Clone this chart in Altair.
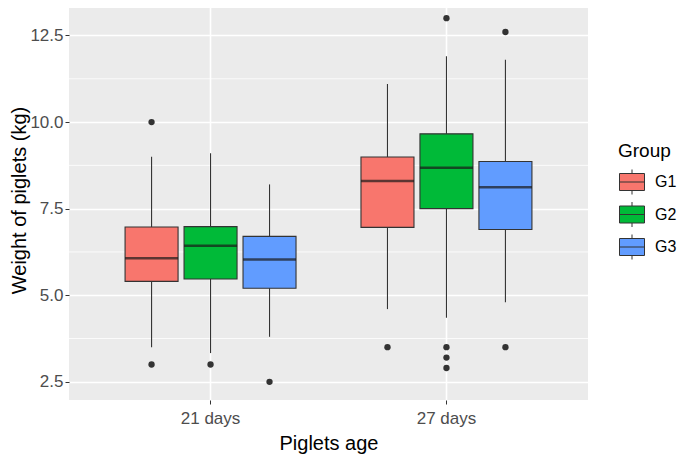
import altair as alt
import pandas as pd

# ---- data ----
ages = ["21 days", "21 days", "21 days", "27 days", "27 days", "27 days"]
groups = ["G1", "G2", "G3", "G1", "G2", "G3"]
lower_whisker = [3.5, 3.33, 3.8, 4.6, 4.35, 4.8]
q1 = [5.4, 5.47, 5.2, 6.96, 7.5, 6.9]
median = [6.07, 6.43, 6.03, 8.3, 8.68, 8.12]
q3 = [6.97, 6.98, 6.7, 8.99, 9.66, 8.86]
upper_whisker = [9.0, 9.1, 8.2, 11.1, 11.9, 11.8]

out_age = ["21 days", "21 days", "21 days", "21 days", "27 days", "27 days",
           "27 days", "27 days", "27 days", "27 days", "27 days"]
out_group = ["G1", "G1", "G2", "G3", "G1", "G2", "G2", "G2", "G2", "G3", "G3"]
out_value = [10.0, 3.0, 3.0, 2.5, 3.5, 13.0, 3.5, 3.2, 2.9, 12.6, 3.5]

age_levels = ["21 days", "27 days"]
group_levels = ["G1", "G2", "G3"]
group_colors = ["#F8766D", "#00BA38", "#619CFF"]
y_breaks = [2.5, 5.0, 7.5, 10.0, 12.5]
y_minor = [3.75, 6.25, 8.75, 11.25]

box = pd.DataFrame({"age": ages, "group": groups, "lo": lower_whisker,
                    "q1": q1, "med": median, "q3": q3, "hi": upper_whisker})
outl = pd.DataFrame({"age": out_age, "group": out_group, "value": out_value})
minor = pd.DataFrame({"v": y_minor})

FONT = "Liberation Sans"

xs = alt.Scale(domain=age_levels, paddingInner=0, paddingOuter=0.1)
xo = alt.Scale(domain=group_levels, paddingInner=0, paddingOuter=0.5)
ys = alt.Scale(domain=[1.975, 13.525], nice=False, zero=False)

X = alt.X("age:N", scale=xs, title="Piglets age",
          axis=alt.Axis(labelAngle=0, bandPosition=0.5, grid=True,
                        gridColor="white", gridWidth=1.6, domain=False,
                        tickColor="#333333", tickSize=4, labelFontSize=17,
                        labelColor="#4D4D4D", labelPadding=6,
                        titleFontSize=20, titleFontWeight="normal",
                        titleColor="black", titlePadding=7, labelFont=FONT,
                        titleFont=FONT))
XO = alt.XOffset("group:N", scale=xo)

minor_rules = alt.Chart(minor).mark_rule(color="white", strokeWidth=0.8).encode(
    y=alt.Y("v:Q", scale=ys)
)

whisk = alt.Chart(box).mark_rule(color="#333333", strokeWidth=1.1).encode(
    x=X, xOffset=XO,
    y=alt.Y("lo:Q", scale=ys, title="Weight of piglets (kg)",
            axis=alt.Axis(values=y_breaks, format=".1f", grid=True,
                          gridColor="white", gridWidth=1.6, domain=False,
                          tickColor="#333333", tickSize=4, labelFontSize=17,
                          labelColor="#4D4D4D", labelPadding=2,
                          titleFontSize=20, titleFontWeight="normal",
                          titleColor="black", titlePadding=0, labelFont=FONT,
                          titleFont=FONT)),
    y2="hi:Q",
)

legend_path = ("M-1,-0.68 L1,-0.68 L1,0.68 L-1,0.68 Z M-1,0 L1,0 "
               "M0,-0.68 L0,-1 M0,0.68 L0,1")

boxes = alt.Chart(box).mark_bar(size=53, stroke="#333333", strokeWidth=1.1).encode(
    x=X, xOffset=XO,
    y=alt.Y("q1:Q", scale=ys), y2="q3:Q",
    fill=alt.Fill("group:N",
                  scale=alt.Scale(domain=group_levels, range=group_colors),
                  legend=alt.Legend(title="Group", orient="none",
                                    legendX=549, legendY=142,
                                    symbolType=legend_path, symbolSize=625,
                                    symbolStrokeColor="#333333",
                                    symbolStrokeWidth=1, symbolOffset=1,
                                    labelOffset=10, rowPadding=2.5,
                                    titlePadding=8, padding=0,
                                    titleFontSize=19, titleFontWeight="normal",
                                    titleColor="black", labelFontSize=16,
                                    labelColor="black", labelFont=FONT,
                                    titleFont=FONT)),
)

meds = alt.Chart(box).mark_tick(size=53, thickness=2.4, color="#1A1A1A",
                                orient="horizontal").encode(
    x=X, xOffset=XO, y=alt.Y("med:Q", scale=ys)
)

pts = alt.Chart(outl).mark_circle(size=40, color="#333333", opacity=1).encode(
    x=X, xOffset=XO, y=alt.Y("value:Q", scale=ys)
)

chart = alt.layer(minor_rules, whisk, boxes, meds, pts).properties(
    width=519, height=400,
    autosize=alt.AutoSizeParams(type="none"),
    padding={"left": 61, "top": -8, "right": 89, "bottom": 56},
    background="white",
).configure(font=FONT).configure_view(fill="#EBEBEB", strokeWidth=0)

chart.save("out.html", embed_options={"renderer": "svg", "actions": False})
